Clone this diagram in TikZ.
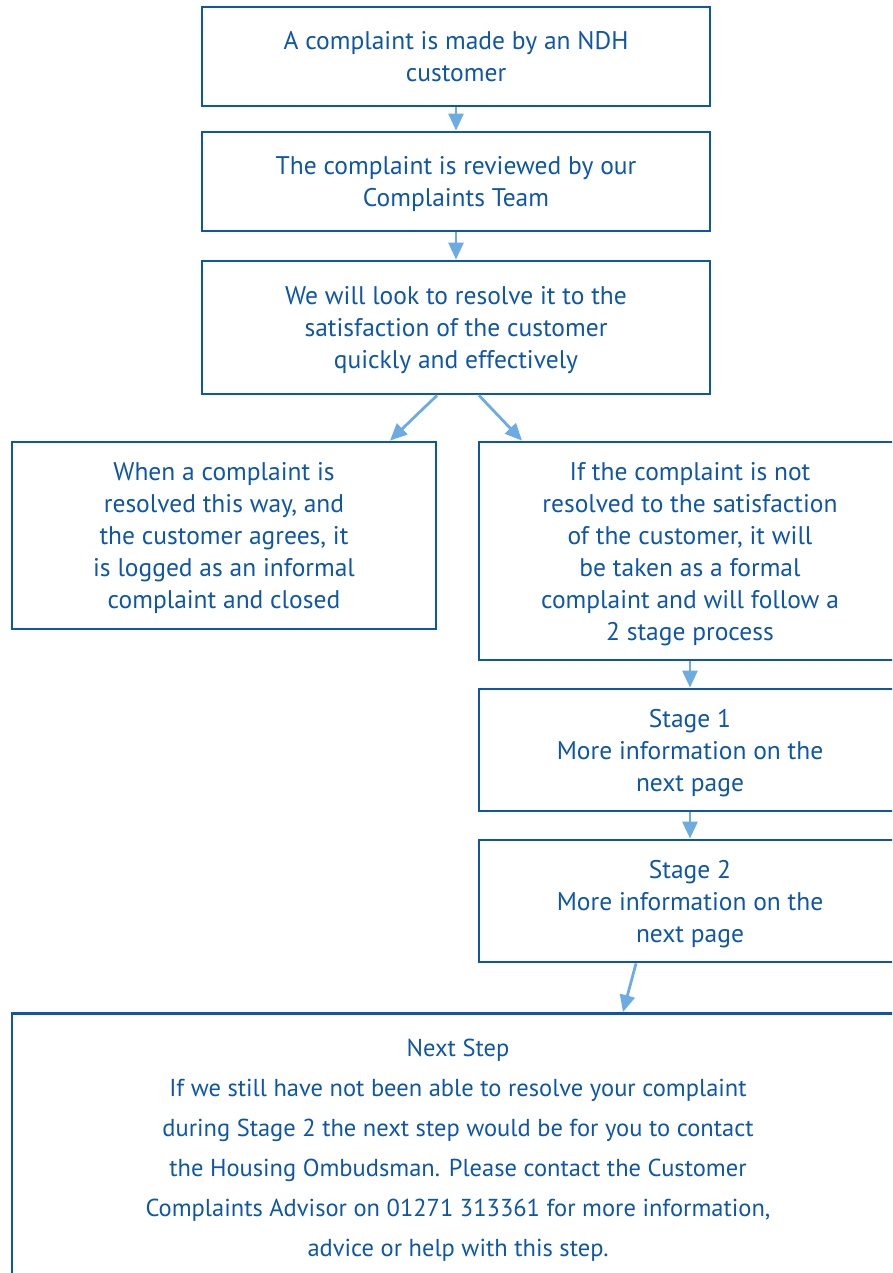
\documentclass[tikz,border=0pt]{standalone}
\usepackage{fontspec}
\setmainfont{PT Sans}
\usetikzlibrary{arrows.meta}
\definecolor{ndhblue}{RGB}{14,86,168}
\definecolor{ndhlight}{RGB}{108,172,226}

\begin{document}
\begin{tikzpicture}[x=1pt, y=-1pt,
			box/.style={draw=ndhblue, line width=2.8pt, text=ndhblue, align=center, inner sep=0pt,
				text depth=-8pt, font=\fontsize{25.5}{32}\selectfont},
			arr/.style={draw=ndhlight, line width=2.8pt, -{Triangle[length=17pt,width=15pt]}}
			]
			
			\useasboundingbox (0,0) rectangle (892,1273);
			\clip (0,0) rectangle (892,1273);
			
			% Boxes
			\node[box, minimum width=508pt, minimum height=99pt] (made) at (456,56.5)
				{A complaint is made by an NDH\\customer};
			\node[box, minimum width=508pt, minimum height=99pt] (review) at (456,181.5)
				{The complaint is reviewed by our\\Complaints Team};
			\node[box, minimum width=508pt, minimum height=133pt] (resolve) at (456,327.5)
				{We will look to resolve it to the\\satisfaction of the customer\\quickly and effectively};
			
			\node[box, minimum width=424pt, minimum height=187pt] (informal) at (224,535.5)
				{When a complaint is\\resolved this way, and\\the customer agrees, it\\is logged as an informal\\complaint and closed};
			\node[box, minimum width=422pt, minimum height=218pt] (formal) at (690,551)
				{If the complaint is not\\resolved to the satisfaction\\of the customer, it will\\be taken as a formal\\complaint and will follow a\\2 stage process};
			
			\node[box, minimum width=422pt, minimum height=122pt] (stage1) at (690,750)
				{Stage 1\\More information on the\\next page};
			\node[box, minimum width=422pt, minimum height=122pt] (stage2) at (690,901)
				{Stage 2\\More information on the\\next page};
			
			\node[box, minimum width=892pt, minimum height=273pt, text depth={}, font=\fontsize{24.5}{40}\selectfont] (next) at (458,1150)
				{Next Step\\If we still have not been able to resolve your complaint\\during Stage 2 the next step would be for you to contact\\the Housing Ombudsman. Please contact the Customer\\Complaints Advisor on 01271 313361 for more information,\\advice or help with this step.};
			
			% Arrows
			\draw[arr] (made.south) -- (review.north);
			\draw[arr] (review.south) -- (resolve.north);
			\draw[arr] ([xshift=-19pt]resolve.south) -- ([xshift=166pt]informal.north);
			\draw[arr] ([xshift=23pt]resolve.south) -- ([xshift=-168pt]formal.north);
			\draw[arr] (formal.south) -- (stage1.north);
			\draw[arr] (stage1.south) -- (stage2.north);
			\draw[arr] ([xshift=-54pt]stage2.south) -- ([xshift=165pt]next.north);
			
		\end{tikzpicture}
\end{document}
